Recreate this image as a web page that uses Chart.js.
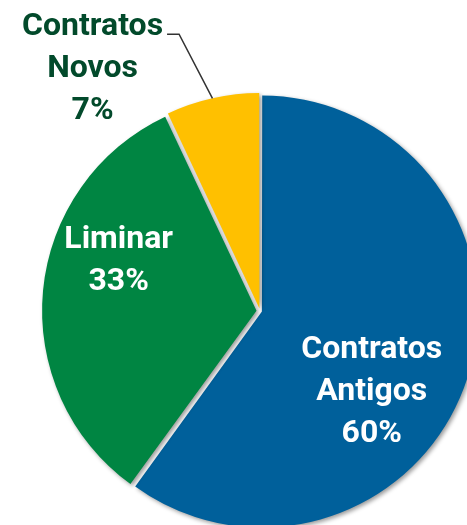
<!DOCTYPE html>
<html>
<head>
<meta charset="utf-8">
<script src="https://cdn.jsdelivr.net/npm/chart.js@4"></script>
<style>
  html, body { margin: 0; padding: 0; background: #fff; overflow: hidden; }
  #contenedor { position: absolute; left: 0; top: 0; width: 481px; height: 532px; }
</style>
</head>
<body>
<div id="contenedor"><canvas id="grafica"></canvas></div>
<script>
// datos
const categorias = ['Contratos Antigos', 'Liminar', 'Contratos Novos'];
const valores = [60, 33, 7];
const etiquetas = [['Contratos', 'Antigos', '60%'], ['Liminar', '33%'], ['Contratos', 'Novos', '7%']];
const colores = ['#00609b', '#008542', '#ffc000'];
const colorTexto = ['#ffffff', '#ffffff', '#024a2b'];

// donde va cada etiqueta: angulo (grados desde arriba, sentido horario) y distancia en radios
const posEtiqueta = [[128.5, 0.667], [286.6, 0.689], [324.4, 1.344]];
const separaciones = [8, 14, 10];

const fuente = 'bold 32px Roboto';
const alto = 42;

// sombra gris bajo las porciones
const sombra = {
    id: 'sombra',
    beforeDatasetsDraw(chart) {
        const ctx = chart.ctx;
        ctx.save();
        ctx.shadowColor = 'rgba(0,0,0,0.4)';
        ctx.shadowBlur = 4;
        ctx.shadowOffsetX = 2;
        ctx.shadowOffsetY = 2;
    },
    afterDatasetsDraw(chart) {
        chart.ctx.restore();
    }
};

function punto(arc, grados, dist) {
    const a = grados * Math.PI / 180 - Math.PI / 2;
    return [arc.x + Math.cos(a) * dist, arc.y + Math.sin(a) * dist];
}

// etiquetas y linea guia
const textos = {
    id: 'textos',
    afterDraw(chart) {
        const ctx = chart.ctx;
        const arcs = chart.getDatasetMeta(0).data;
        ctx.save();
        ctx.font = fuente;
        ctx.textAlign = 'center';
        ctx.textBaseline = 'alphabetic';
        arcs.forEach((arc, i) => {
            const [x, y] = punto(arc, posEtiqueta[i][0], posEtiqueta[i][1] * arc.outerRadius);
            const lineas = etiquetas[i];
            const y0 = y - (lineas.length - 1) / 2 * alto;
            ctx.fillStyle = colorTexto[i];
            lineas.forEach((t, j) => ctx.fillText(t, x, y0 + j * alto));

            if (i === 2) {
                // guia desde el texto hasta el borde de la porcion
                const mitad = (arc.startAngle + arc.endAngle) / 2;
                const circ = arc.endAngle - arc.startAngle;
                const fix = 1 - Math.sin(Math.min(Math.PI, circ));
                const mov = separaciones[i] / 4 * (1 + fix);
                const ex = arc.x + Math.cos(mitad) * (arc.outerRadius + mov);
                const ey = arc.y + Math.sin(mitad) * (arc.outerRadius + mov);
                const w = ctx.measureText(lineas[0]).width;
                const sx = x + w / 2 + 4;
                const sy = y0 - 1;
                ctx.strokeStyle = '#333333';
                ctx.lineWidth = 1.5;
                ctx.beginPath();
                ctx.moveTo(sx, sy);
                ctx.lineTo(sx + 12, sy);
                ctx.lineTo(ex, ey);
                ctx.stroke();
            }
        });
        ctx.restore();
    }
};

const ctx = document.getElementById('grafica').getContext('2d');
new Chart(ctx, {
    type: 'pie',
    data: {
        labels: categorias,
        datasets: [{
            data: valores,
            backgroundColor: colores,
            borderWidth: 0,
            offset: separaciones,
            hoverOffset: 0
        }]
    },
    options: {
        responsive: true,
        maintainAspectRatio: false,
        animation: false,
        layout: { padding: { left: 39, top: 90, right: 0, bottom: 0 } },
        plugins: {
            legend: { display: false },
            tooltip: { enabled: false }
        }
    },
    plugins: [sombra, textos]
});
</script>
</body>
</html>
